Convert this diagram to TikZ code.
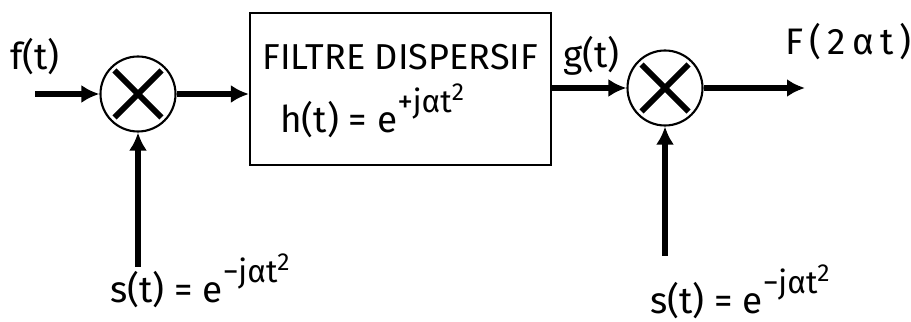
\documentclass[tikz,border=0pt]{standalone}
\usepackage{fontspec}
\setmainfont{Fira Sans}
\usetikzlibrary{arrows.meta}
\newcommand{\expo}[1]{\raisebox{0.55em}{\fontsize{18}{18}\selectfont #1}}
\newcommand{\carre}{\raisebox{0.4em}{\fontsize{14}{14}\selectfont 2}}

\begin{document}
\begin{tikzpicture}[every node/.style={font=\fontsize{21}{24}\selectfont},
  mixer/.style={circle,draw,line width=1.2pt,minimum size=1.5cm,inner sep=0pt,
    path picture={\draw[line width=3.4pt]
      ([shift={(-0.47,-0.47)}]path picture bounding box.center) -- ([shift={(0.47,0.47)}]path picture bounding box.center)
      ([shift={(-0.47,0.47)}]path picture bounding box.center) -- ([shift={(0.47,-0.47)}]path picture bounding box.center);}},
  bloc/.style={draw,line width=1.2pt,minimum width=6.02cm,minimum height=3.04cm},
  fleche/.style={line width=3pt,-{Latex[length=0.36cm,width=0.36cm]}}]
  \useasboundingbox (0,0) rectangle (18.22,6.44);
  \node[mixer] (mix1) at (2.76,4.56) {};
  \node[bloc] (filtre) at (8.01,4.66) {};
  \node[mixer] (mix2) at (13.30,4.68) {};
  \coordinate (entree) at (0.70,4.56);
  \coordinate (sortie) at (16.10,4.68);
  \coordinate (s1) at (2.76,1.10);
  \coordinate (s2) at (13.30,1.32);
  \node[anchor=base west,inner sep=0pt,font=\fontsize{20.5}{24}\selectfont] (titre) at (5.24,5.04) {FILTRE DISPERSIF};
  \node[anchor=base west,inner sep=0pt] (reponse) at (5.60,3.78) {h(t) = e\expo{+jαt\carre}};
  \node[anchor=base west,inner sep=0pt] (lf) at (0.20,5.04) {f(t)};
  \node[anchor=base west,inner sep=0pt] (lg) at (11.26,5.08) {g(t)};
  \node[anchor=base west,inner sep=0pt] (lF) at (15.70,5.34) {F\,(\,2\,α\,t\,)};
  \node[anchor=base west,inner sep=0pt] (ls1) at (2.20,0.38) {s(t) = e\expo{−jαt\carre}};
  \node[anchor=base west,inner sep=0pt] (ls2) at (13.00,0.16) {s(t) = e\expo{−jαt\carre}};
  \draw[fleche] (entree) -- (mix1);
  \draw[fleche] (mix1) -- (mix1 -| filtre.west);
  \draw[fleche] (filtre.east |- mix2) -- (mix2);
  \draw[fleche] (mix2) -- (sortie);
  \draw[fleche] (s1) -- (mix1);
  \draw[fleche] (s2) -- (mix2);
\end{tikzpicture}
\end{document}
